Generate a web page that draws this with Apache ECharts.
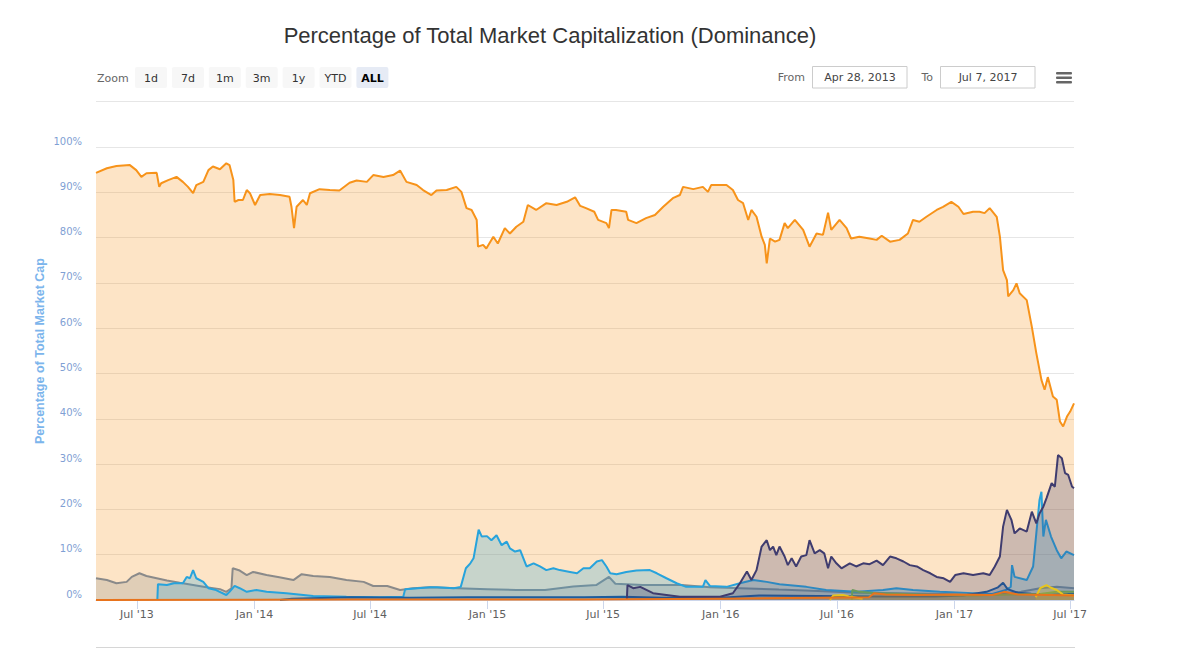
<!DOCTYPE html>
<html>
<head>
<meta charset="utf-8">
<script src="https://cdn.jsdelivr.net/npm/echarts@6/dist/echarts.min.js"></script>
<style>
  html, body { margin: 0; padding: 0; background: #ffffff; }
  #chart { width: 1179px; height: 649px; }
</style>
</head>
<body>
<div id="chart"></div>
<script>
// ---------------- DATA ----------------
const chartTitle = 'Percentage of Total Market Capitalization (Dominance)';
const yAxisTitle = 'Percentage of Total Market Cap';
const rangeStart = '2013-04-28';
const rangeEnd = '2017-07-07';
const fromLabel = 'Apr 28, 2013';
const toLabel = 'Jul 7, 2017';
const zoomButtons = ['1d', '7d', '1m', '3m', '1y', 'YTD', 'ALL'];
const xTickDates = ['2013-07-01', '2014-01-01', '2014-07-01', '2015-01-01', '2015-07-01',
                    '2016-01-01', '2016-07-01', '2017-01-01', '2017-07-01'];
const monthNames = ['Jan','Feb','Mar','Apr','May','Jun','Jul','Aug','Sep','Oct','Nov','Dec'];
const seriesNames = ['Bitcoin', 'Litecoin', 'Ripple', 'Dash', 'Ethereum', 'Ethereum Classic', 'Steem', 'Monero'];

const bitcoin = [
 ['2013-04-28',94.3],['2013-05-15',95.3],['2013-05-30',95.8],['2013-06-20',96.0],['2013-06-30',94.9],
 ['2013-07-08',93.4],['2013-07-16',94.2],['2013-08-01',94.3],['2013-08-05',91.2],['2013-08-08',92.0],
 ['2013-08-19',92.7],['2013-09-01',93.4],['2013-09-11',92.3],['2013-09-19',91.2],['2013-09-27',89.8],
 ['2013-10-02',91.6],['2013-10-13',92.3],['2013-10-21',94.9],['2013-10-28',95.7],['2013-11-08',95.1],
 ['2013-11-18',96.4],['2013-11-23',96.0],['2013-11-29',92.7],['2013-12-01',87.9],['2013-12-07',88.3],
 ['2013-12-14',88.3],['2013-12-20',90.5],['2013-12-25',89.8],['2014-01-02',87.2],['2014-01-10',89.4],
 ['2014-01-25',89.6],['2014-02-10',89.4],['2014-02-25',89.0],['2014-02-28',86.8],['2014-03-04',82.1],
 ['2014-03-08',86.8],['2014-03-18',88.3],['2014-03-24',87.2],['2014-03-29',89.8],['2014-04-13',90.7],
 ['2014-04-29',90.5],['2014-05-14',90.4],['2014-05-30',92.1],['2014-06-10',92.6],['2014-06-26',92.3],
 ['2014-07-06',93.8],['2014-07-22',93.4],['2014-08-06',93.8],['2014-08-17',94.8],['2014-08-27',92.3],
 ['2014-09-12',91.6],['2014-09-22',90.5],['2014-10-05',89.4],['2014-10-13',90.4],['2014-10-29',90.5],
 ['2014-11-13',91.2],['2014-11-21',90.1],['2014-11-29',86.5],['2014-12-07',86.1],['2014-12-15',83.9],
 ['2014-12-17',78.0],['2014-12-25',78.4],['2014-12-30',77.6],['2015-01-10',80.2],['2015-01-17',78.7],
 ['2015-01-28',82.1],['2015-02-05',80.9],['2015-02-15',82.4],['2015-02-26',83.5],['2015-03-05',87.2],
 ['2015-03-18',86.1],['2015-04-03',87.6],['2015-04-19',87.2],['2015-05-05',87.9],['2015-05-18',88.9],
 ['2015-05-26',87.0],['2015-06-04',86.5],['2015-06-17',85.7],['2015-06-23',83.9],['2015-07-06',83.2],
 ['2015-07-10',82.1],['2015-07-14',86.1],['2015-07-21',86.1],['2015-08-06',85.7],['2015-08-09',83.9],
 ['2015-08-22',83.2],['2015-09-06',84.3],['2015-09-20',85.0],['2015-10-03',86.8],['2015-10-18',88.7],
 ['2015-10-29',89.4],['2015-11-03',91.2],['2015-11-19',90.7],['2015-12-04',91.2],['2015-12-12',90.1],
 ['2015-12-17',91.6],['2015-12-30',91.6],['2016-01-10',91.6],['2016-01-20',90.5],['2016-01-28',88.3],
 ['2016-02-05',87.6],['2016-02-13',83.9],['2016-02-18',86.1],['2016-02-26',84.6],['2016-03-05',80.2],
 ['2016-03-10',78.4],['2016-03-13',74.3],['2016-03-18',79.8],['2016-03-26',79.1],['2016-04-02',79.5],
 ['2016-04-10',83.2],['2016-04-15',82.1],['2016-04-26',83.9],['2016-05-09',81.7],['2016-05-19',78.0],
 ['2016-05-30',80.9],['2016-06-09',80.6],['2016-06-17',85.5],['2016-06-22',81.7],['2016-07-05',83.9],
 ['2016-07-16',82.1],['2016-07-23',79.8],['2016-08-05',80.2],['2016-08-21',79.8],['2016-09-01',79.5],
 ['2016-09-09',80.4],['2016-09-22',79.1],['2016-10-07',79.5],['2016-10-20',80.9],['2016-10-28',83.9],
 ['2016-11-07',83.5],['2016-11-18',84.6],['2016-12-04',86.1],['2016-12-14',86.8],['2016-12-27',87.9],
 ['2017-01-07',86.8],['2017-01-15',85.2],['2017-01-30',85.7],['2017-02-09',85.7],['2017-02-17',85.4],
 ['2017-02-25',86.5],['2017-03-08',84.6],['2017-03-13',80.2],['2017-03-18',72.8],['2017-03-24',70.6],
 ['2017-03-26',67.0],['2017-04-03',68.4],['2017-04-08',69.9],['2017-04-13',67.7],['2017-04-24',66.2],
 ['2017-05-02',60.3],['2017-05-09',54.5],['2017-05-17',48.6],['2017-05-22',46.4],['2017-05-27',49.2],
 ['2017-06-04',44.9],['2017-06-10',44.2],['2017-06-15',39.4],['2017-06-20',38.3],['2017-06-26',40.5],
 ['2017-07-01',41.6],['2017-07-07',43.4]
];

const litecoin = [
 ['2013-04-28',4.8],['2013-05-15',4.4],['2013-05-30',3.7],['2013-06-15',4.0],['2013-06-23',5.1],
 ['2013-07-05',5.9],['2013-07-16',5.3],['2013-08-01',4.8],['2013-08-17',4.3],['2013-09-06',3.8],
 ['2013-09-27',3.3],['2013-10-18',2.8],['2013-11-08',2.4],['2013-11-18',1.8],['2013-11-26',2.6],
 ['2013-11-28',7.0],['2013-12-09',6.5],['2013-12-20',5.5],['2013-12-30',6.2],['2014-01-20',5.5],
 ['2014-02-09',5.0],['2014-03-03',4.4],['2014-03-16',5.7],['2014-04-03',5.3],['2014-04-29',5.1],
 ['2014-05-25',4.4],['2014-06-21',4.0],['2014-07-06',3.1],['2014-07-28',3.1],['2014-08-17',2.2],
 ['2014-09-06',2.6],['2014-10-03',2.8],['2014-11-15',2.6],['2015-01-01',2.4],['2015-02-15',2.2],
 ['2015-04-01',2.2],['2015-05-15',3.0],['2015-06-20',3.3],['2015-07-10',5.1],['2015-07-20',3.6],
 ['2015-09-01',3.3],['2015-11-01',3.3],['2015-12-15',2.8],['2016-02-01',2.6],['2016-04-01',2.3],
 ['2016-06-01',2.0],['2016-08-01',1.6],['2016-10-01',1.5],['2016-12-01',1.4],['2017-02-01',1.1],
 ['2017-03-15',1.4],['2017-04-15',1.8],['2017-05-15',2.6],['2017-06-10',2.9],['2017-07-07',2.6]
];

const ripple = [
 ['2013-08-02',0],['2013-08-03',3.5],['2013-08-17',3.3],['2013-08-28',3.7],['2013-09-11',3.7],
 ['2013-09-17',5.1],['2013-09-22',4.8],['2013-09-27',6.6],['2013-10-02',4.8],['2013-10-13',4.0],
 ['2013-10-21',2.6],['2013-11-02',2.2],['2013-11-18',1.1],['2013-11-23',1.8],['2013-12-01',3.1],
 ['2013-12-09',2.6],['2013-12-20',1.8],['2014-01-04',2.2],['2014-01-20',1.8],['2014-02-20',1.5],
 ['2014-04-03',0.9],['2014-05-25',0.7],['2014-07-16',0.6],['2014-08-22',0.7],['2014-08-25',2.4],
 ['2014-10-03',2.8],['2014-10-14',2.8],['2014-11-09',2.6],['2014-11-20',2.9],['2014-11-28',7.0],
 ['2014-12-05',8.1],['2014-12-10',9.2],['2014-12-18',15.5],['2014-12-23',14.0],['2014-12-31',14.1],
 ['2015-01-07',13.2],['2015-01-15',14.3],['2015-01-23',12.1],['2015-01-31',12.9],['2015-02-05',11.4],
 ['2015-02-13',10.7],['2015-02-21',11.0],['2015-03-03',7.4],['2015-03-14',8.1],['2015-03-24',7.4],
 ['2015-04-03',6.6],['2015-04-14',7.0],['2015-04-24',6.6],['2015-05-10',6.2],['2015-05-21',5.9],
 ['2015-05-31',7.0],['2015-06-10',7.0],['2015-06-21',8.5],['2015-06-29',8.8],['2015-07-06',7.4],
 ['2015-07-12',5.9],['2015-07-22',5.7],['2015-08-06',6.2],['2015-08-22',6.5],['2015-09-12',6.6],
 ['2015-09-23',5.9],['2015-10-08',4.8],['2015-10-24',3.7],['2015-11-08',2.9],['2015-12-04',2.9],
 ['2015-12-08',4.4],['2015-12-15',3.1],['2016-01-10',2.9],['2016-01-31',3.7],['2016-02-21',4.4],
 ['2016-03-13',4.0],['2016-04-02',3.5],['2016-05-14',2.9],['2016-06-14',2.2],['2016-08-01',1.8],
 ['2016-09-11',2.2],['2016-10-02',2.6],['2016-10-28',2.2],['2016-12-09',1.8],['2017-01-30',1.5],
 ['2017-02-28',1.3],['2017-03-22',2.2],['2017-03-30',2.9],['2017-04-01',7.7],['2017-04-05',5.1],
 ['2017-04-24',4.4],['2017-05-04',7.4],['2017-05-09',14.7],['2017-05-14',22.1],['2017-05-17',23.9],
 ['2017-05-20',14.0],['2017-05-24',17.7],['2017-06-01',14.0],['2017-06-10',11.0],['2017-06-17',9.2],
 ['2017-06-25',10.7],['2017-07-07',9.9]
];

const dash = [
 ['2014-02-10',0],['2014-03-01',0.3],['2014-05-01',0.5],['2014-06-01',0.6],['2014-09-01',0.5],
 ['2014-12-01',0.6],['2015-03-01',0.6],['2015-06-01',0.6],['2015-08-01',0.7],['2015-10-01',0.5],
 ['2016-01-01',0.5],['2016-03-01',1.0],['2016-06-01',0.9],['2016-09-01',0.8],['2016-12-01',0.8],
 ['2017-01-15',1.0],['2017-02-20',1.8],['2017-03-10',2.8],['2017-03-18',3.8],['2017-03-25',2.4],
 ['2017-04-10',1.6],['2017-05-01',1.4],['2017-06-01',1.2],['2017-07-07',1.4]
];

const ethereum = [
 ['2015-08-07',0],['2015-08-08',3.3],['2015-08-17',2.6],['2015-08-28',2.9],['2015-09-17',1.5],
 ['2015-10-29',0.7],['2015-12-31',0.7],['2016-01-20',1.5],['2016-01-31',3.7],['2016-02-11',6.3],
 ['2016-02-18',4.4],['2016-02-26',6.6],['2016-03-05',11.8],['2016-03-13',13.2],['2016-03-18',11.0],
 ['2016-03-23',11.8],['2016-03-28',9.9],['2016-04-02',11.8],['2016-04-10',9.6],['2016-04-15',7.7],
 ['2016-04-21',9.2],['2016-04-28',7.4],['2016-05-06',9.6],['2016-05-14',9.9],['2016-05-19',13.2],
 ['2016-05-27',10.3],['2016-06-04',11.0],['2016-06-11',10.3],['2016-06-17',7.0],['2016-06-22',9.6],
 ['2016-06-30',8.1],['2016-07-08',7.0],['2016-07-21',8.1],['2016-07-31',7.4],['2016-08-11',8.1],
 ['2016-08-21',7.9],['2016-09-01',8.7],['2016-09-11',7.7],['2016-09-22',9.6],['2016-10-02',9.2],
 ['2016-10-13',8.5],['2016-10-23',7.7],['2016-11-03',7.4],['2016-11-13',6.6],['2016-11-24',5.9],
 ['2016-12-04',5.1],['2016-12-15',4.8],['2016-12-25',4.0],['2017-01-02',5.5],['2017-01-15',5.9],
 ['2017-01-30',5.5],['2017-02-15',5.9],['2017-02-25',5.5],['2017-03-05',7.4],['2017-03-13',9.6],
 ['2017-03-18',16.2],['2017-03-24',19.9],['2017-03-31',17.7],['2017-04-05',14.7],['2017-04-13',15.8],
 ['2017-04-24',15.1],['2017-05-02',19.5],['2017-05-09',16.9],['2017-05-14',19.1],['2017-05-20',20.6],
 ['2017-05-25',22.5],['2017-06-02',25.8],['2017-06-07',25.0],['2017-06-12',32.0],['2017-06-18',31.3],
 ['2017-06-23',28.0],['2017-06-28',27.6],['2017-07-04',25.0],['2017-07-07',24.7]
];

const ethereumClassic = [
 ['2016-07-24',0],['2016-07-25',2.2],['2016-08-05',1.8],['2016-09-01',1.5],['2016-10-15',1.3],
 ['2016-12-01',1.1],['2017-02-01',1.0],['2017-04-01',1.2],['2017-05-15',1.3],['2017-06-10',1.8],
 ['2017-07-07',1.8]
];

const steem = [
 ['2016-06-20',0],['2016-06-25',1.0],['2016-07-10',1.1],['2016-07-20',0.8],['2016-08-10',0.3],
 ['2016-10-01',null],
 ['2017-05-08',0.6],['2017-05-15',2.6],['2017-05-25',3.3],['2017-06-01',2.7],['2017-06-10',2.2],
 ['2017-06-20',1.2],['2017-07-07',1.0]
];

const monero = [
 ['2013-04-28',0],['2014-06-01',0.1],['2015-06-01',0.1],['2016-01-01',0.3],['2016-06-01',0.5],
 ['2016-08-20',0.6],['2016-08-28',1.5],['2016-09-15',1.2],['2016-11-01',1.1],['2017-01-01',1.2],
 ['2017-03-01',1.1],['2017-03-20',1.8],['2017-04-10',1.2],['2017-06-01',1.1],['2017-07-07',1.0]
];

const seriesData = [bitcoin, litecoin, ripple, dash, ethereum, ethereumClassic, steem, monero];
const seriesColors = ['#f7931a', '#8a8a8a', '#27a3dc', '#1d5c9c', '#3f3c6f', '#6a9a5b', '#e8c51c', '#e8731c'];

// ---------------- CHART ----------------
function ts(s) { const p = s.split('-').map(Number); return Date.UTC(p[0], p[1] - 1, p[2]); }
const tickValues = xTickDates.map(ts);

const chart = echarts.init(document.getElementById('chart'), null, { renderer: 'svg' });

const uiFont = '"DejaVu Sans", Verdana, sans-serif';
const graphics = [];
graphics.push({
  type: 'text', x: 550, y: 35,
  style: { text: chartTitle, fill: '#333333', font: 'normal 22px "Liberation Sans", Arial, sans-serif',
           align: 'center', verticalAlign: 'middle', textAlign: 'center', textVerticalAlign: 'middle' }
});
graphics.push({
  type: 'text', x: 40, y: 351, rotation: Math.PI / 2,
  style: { text: yAxisTitle, fill: '#7cb5ec', font: 'bold 12.5px "Liberation Sans", Arial, sans-serif',
           align: 'center', verticalAlign: 'middle', textAlign: 'center', textVerticalAlign: 'middle' }
});
graphics.push({
  type: 'text', x: 97, y: 78,
  style: { text: 'Zoom', fill: '#666666', font: '11px ' + uiFont, align: 'left', verticalAlign: 'middle',
           textAlign: 'left', textVerticalAlign: 'middle' }
});
zoomButtons.forEach(function (b, i) {
  const bx = 135 + i * 36.9;
  const active = b === 'ALL';
  graphics.push({
    type: 'rect', shape: { x: bx, y: 67, width: 32, height: 21, r: 2 },
    style: { fill: active ? '#e6ebf5' : '#f7f7f7' }
  });
  graphics.push({
    type: 'text', x: bx + 16, y: 78,
    style: { text: b, fill: active ? '#000000' : '#333333',
             font: (active ? 'bold ' : 'normal ') + '11px ' + uiFont,
             align: 'center', verticalAlign: 'middle', textAlign: 'center', textVerticalAlign: 'middle' }
  });
});
graphics.push({
  type: 'text', x: 805, y: 77,
  style: { text: 'From', fill: '#666666', font: '11px ' + uiFont, align: 'right', verticalAlign: 'middle',
           textAlign: 'right', textVerticalAlign: 'middle' }
});
graphics.push({
  type: 'rect', shape: { x: 812.5, y: 66.5, width: 94.5, height: 21.5 },
  style: { fill: '#ffffff', stroke: '#cccccc', lineWidth: 1 }
});
graphics.push({
  type: 'text', x: 860, y: 77,
  style: { text: fromLabel, fill: '#444444', font: '11px ' + uiFont, align: 'center', verticalAlign: 'middle',
           textAlign: 'center', textVerticalAlign: 'middle' }
});
graphics.push({
  type: 'text', x: 933, y: 77,
  style: { text: 'To', fill: '#666666', font: '11px ' + uiFont, align: 'right', verticalAlign: 'middle',
           textAlign: 'right', textVerticalAlign: 'middle' }
});
graphics.push({
  type: 'rect', shape: { x: 940.5, y: 66.5, width: 94.5, height: 21.5 },
  style: { fill: '#ffffff', stroke: '#cccccc', lineWidth: 1 }
});
graphics.push({
  type: 'text', x: 988, y: 77,
  style: { text: toLabel, fill: '#444444', font: '11px ' + uiFont, align: 'center', verticalAlign: 'middle',
           textAlign: 'center', textVerticalAlign: 'middle' }
});
[72, 76.5, 81].forEach(function (yy) {
  graphics.push({
    type: 'rect', shape: { x: 1056, y: yy, width: 16, height: 2.6, r: 1 },
    style: { fill: '#666666' }
  });
});
graphics.push({
  type: 'line', shape: { x1: 96, y1: 647.5, x2: 1075, y2: 647.5 },
  style: { stroke: '#d6d6d6', lineWidth: 1 }
});

const option = {
  animation: false,
  backgroundColor: '#ffffff',
  grid: { left: 96, right: 105, top: 101.7, bottom: 49, containLabel: false },
  xAxis: {
    type: 'value',
    min: ts(rangeStart),
    max: ts(rangeEnd),
    axisLine: { show: true, lineStyle: { color: '#ccd6eb', width: 1 } },
    axisTick: { show: true, length: 9, customValues: tickValues, lineStyle: { color: '#ccd6eb', width: 1 } },
    axisLabel: {
      customValues: tickValues,
      color: '#606060', fontSize: 11, fontFamily: '"DejaVu Sans", Verdana, sans-serif', margin: 9,
      formatter: function (v) {
        const d = new Date(v);
        return monthNames[d.getUTCMonth()] + " '" + String(d.getUTCFullYear()).slice(2);
      }
    },
    splitLine: { show: false }
  },
  yAxis: {
    type: 'value', min: 0, max: 110, interval: 10,
    axisLine: { show: false }, axisTick: { show: false },
    axisLabel: {
      color: '#7f9fd4', fontSize: 10, fontFamily: '"DejaVu Sans", Verdana, sans-serif', margin: 14,
      verticalAlign: 'bottom', lineHeight: 12,
      formatter: function (v) { return v > 100 ? '' : v + '%'; }
    },
    splitLine: { show: true, lineStyle: { color: '#e6e6e6', width: 1 } }
  },
  graphic: { elements: graphics },
  series: seriesNames.map(function (name, i) {
    return {
      name: name, type: 'line',
      data: seriesData[i].map(function (p) { return [ts(p[0]), p[1]]; }),
      showSymbol: false, symbol: 'none', connectNulls: false, smooth: false,
      lineStyle: { color: seriesColors[i], width: 2 },
      itemStyle: { color: seriesColors[i] },
      areaStyle: { color: seriesColors[i], opacity: 0.25 },
      z: 2 + i
    };
  })
};
chart.setOption(option);
</script>
</body>
</html>
